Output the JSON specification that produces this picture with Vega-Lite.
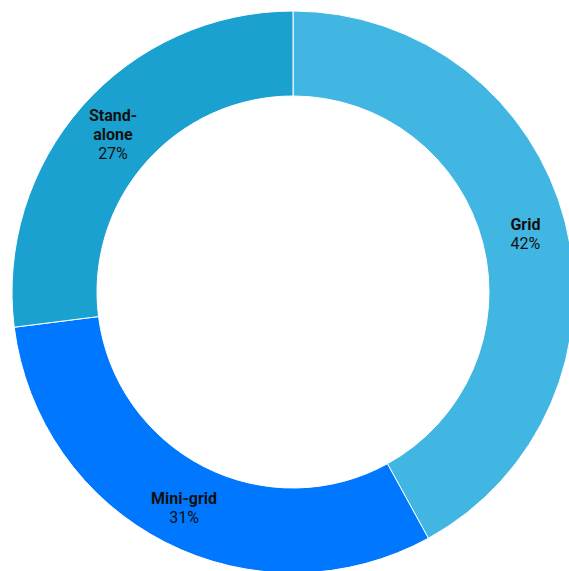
{
  "$schema": "https://vega.github.io/schema/vega-lite/v6.json",
  "autosize": {"type": "none"},
  "width": 586,
  "height": 584,
  "padding": 0,
  "background": "white",
  "config": {"view": {"stroke": null}, "text": {"lineBreak": "\n", "font": "Roboto"}},
  "data": {
    "values": [
      {"category": "Grid", "share": 42, "name": "Grid", "pct": "42%", "lines": 2},
      {"category": "Mini-grid", "share": 31, "name": "Mini-grid", "pct": "31%", "lines": 2},
      {"category": "Stand-alone", "share": 27, "name": "Stand-\nalone", "pct": "27%", "lines": 3}
    ]
  },
  "encoding": {
    "theta": {"field": "share", "type": "quantitative", "stack": true},
    "order": {"field": "category", "type": "nominal"},
    "detail": {"field": "category", "type": "nominal"}
  },
  "layer": [
    {"mark": {"type": "arc", "outerRadius": 281, "innerRadius": 196, "stroke": "white", "strokeWidth": 1},
     "encoding": {"color": {
      "field": "category",
      "type": "nominal",
      "scale": {"domain": ["Grid", "Mini-grid", "Stand-alone"], "range": ["#41b6e2", "#0077ff", "#1ba1cf"]},
      "legend": null
    }}},
    {"mark": {"type": "text", "radius": 240, "fontSize": 16, "fontWeight": "bold", "lineHeight": 19, "baseline": "middle", "align": "center", "fill": "#111111", "dy": -7},
     "encoding": {"text": {"condition": {"test": "datum.lines !== 2", "value": ""}, "field": "name"}}},
    {"mark": {"type": "text", "radius": 240, "fontSize": 16, "lineHeight": 19, "baseline": "middle", "align": "center", "fill": "#111111", "dy": 12},
     "encoding": {"text": {"condition": {"test": "datum.lines !== 2", "value": ""}, "field": "pct"}}},
    {"mark": {"type": "text", "radius": 240, "fontSize": 16, "fontWeight": "bold", "lineHeight": 19, "baseline": "middle", "align": "center", "fill": "#111111", "dy": -17},
     "encoding": {"text": {"condition": {"test": "datum.lines !== 3", "value": ""}, "field": "name"}}},
    {"mark": {"type": "text", "radius": 240, "fontSize": 16, "lineHeight": 19, "baseline": "middle", "align": "center", "fill": "#111111", "dy": 21},
     "encoding": {"text": {"condition": {"test": "datum.lines !== 3", "value": ""}, "field": "pct"}}}
  ]
}
